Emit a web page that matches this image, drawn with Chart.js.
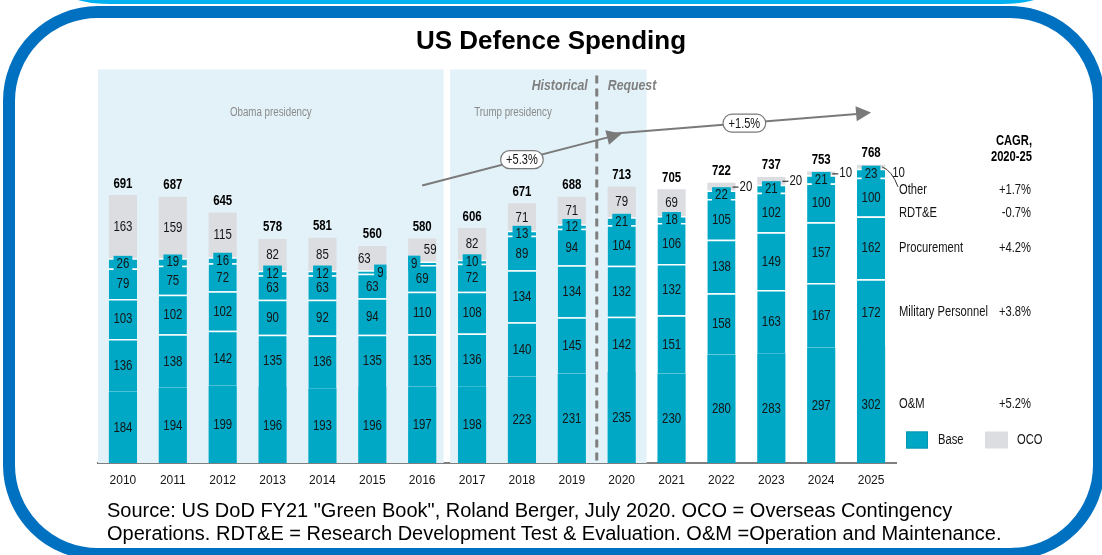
<!DOCTYPE html>
<html>
<head>
<meta charset="utf-8">
<script src="https://cdn.jsdelivr.net/npm/chart.js@4.4.1/dist/chart.umd.min.js"></script>
<style>
  html, body { margin: 0; padding: 0; width: 1102px; height: 555px; overflow: hidden; background: #fff; }
  #cap { position: absolute; left: 70px; top: -50px; width: 972px; height: 54px; background: #00b0f0;
         border-bottom-left-radius: 40px 10px; border-bottom-right-radius: 40px 10px; }
  #frame { position: absolute; left: 3px; top: 6px; width: 1102px; height: 554px; box-sizing: border-box;
           border: 12px solid #0070c0; border-radius: 95px; }
  #wrap { position: absolute; left: 0; top: 0; width: 1102px; height: 555px; }
  #title { position: absolute; left: 0; top: 25px; width: 1102px; text-align: center;
           font: bold 26px 'Liberation Sans', Arial, sans-serif; color: #000; }
  #note { position: absolute; left: 107px; top: 499px; white-space: nowrap;
          font: 20px/23px 'Liberation Sans', Arial, sans-serif; color: #000; }
</style>
</head>
<body>
<div id="cap"></div>
<div id="frame"></div>
<div id="wrap"><canvas id="chart"></canvas></div>
<div id="title">US Defence Spending</div>
<div id="note">Source: US DoD FY21 "Green Book", Roland Berger, July 2020. OCO = Overseas Contingency<br>Operations. RDT&amp;E = Research Development Test &amp; Evaluation. O&amp;M =Operation and Maintenance.</div>
<script>
// US defence budget by appropriation, $bn
const years = ['2010','2011','2012','2013','2014','2015','2016','2017','2018','2019','2020','2021','2022','2023','2024','2025'];
const operationsMaintenance = [184,194,199,196,193,196,197,198,223,231,235,230,280,283,297,302];
const militaryPersonnel     = [136,138,142,135,136,135,135,136,140,145,142,151,158,163,167,172];
const procurement           = [103,102,102,90,92,94,110,108,134,134,132,132,138,149,157,162];
const rdte                  = [79,75,72,63,63,63,69,72,89,94,104,106,105,102,100,100];
const otherBase             = [26,19,16,12,12,9,9,10,13,12,21,18,22,21,21,23];
const oco                   = [163,159,115,82,85,63,59,82,71,71,79,69,20,20,10,10];
const totals                = [691,687,645,578,581,560,580,606,671,688,713,705,722,737,753,768];

const seriesNames = ['O&M','Military Personnel','Procurement','RDT&E','Other'];
const cagr2020to25 = ['+5.2%','+3.8%','+4.2%','-0.7%','+1.7%'];
const trendLabels = ['+5.3%','+1.5%'];

const SANS = "'Liberation Sans', Arial, sans-serif";
const TEAL = '#00a8c6';
const GREY = '#dcdde1';
const PANEL = '#e3f2f8';
const INK = '#141414';

function segment(label, data, color, separator) {
  return {
    label, data, backgroundColor: color, stack: 'budget',
    borderColor: '#ffffff',
    borderWidth: separator ? { top: 1.5, right: 0, bottom: 0, left: 0 } : 0,
    borderSkipped: false
  };
}

// Small labels nudged sideways so they do not collide
const labelShift = { '4:5': 8, '5:5': -8, '4:6': -8, '5:6': 8 };

// Condensed lettering: Liberation Sans squeezed horizontally
function narrowFont(size, weight, style) {
  return `${style || ''} ${weight || ''} ${size}px ${SANS}`;
}
function narrowWidth(ctx, text, o) {
  ctx.save();
  ctx.font = narrowFont(o.size, o.weight, o.style);
  const w = ctx.measureText(text).width * (o.squeeze || 0.8);
  ctx.restore();
  return w;
}
function narrowText(ctx, text, x, y, o) {
  ctx.save();
  ctx.font = narrowFont(o.size, o.weight, o.style);
  ctx.fillStyle = o.color || INK;
  ctx.textAlign = o.align || 'center';
  ctx.textBaseline = 'middle';
  ctx.translate(x, y);
  ctx.scale(o.squeeze || 0.8, 1);
  ctx.fillText(text, 0, 0);
  ctx.restore();
}

const VAL = { size: 14.5, squeeze: 0.79 };
const TOT = { size: 14.5, squeeze: 0.79, weight: 'bold', color: '#000' };
const SIDE = { size: 14, squeeze: 0.8 };

function barGeom(chart, d, j) {
  return chart.getDatasetMeta(d).data[j].getProps(['x', 'y', 'base', 'width'], true);
}

function arrowHead(ctx, from, to, len, half) {
  const ang = Math.atan2(to.y - from.y, to.x - from.x);
  ctx.beginPath();
  ctx.moveTo(to.x, to.y);
  ctx.lineTo(to.x - len * Math.cos(ang) + half * Math.sin(ang), to.y - len * Math.sin(ang) - half * Math.cos(ang));
  ctx.lineTo(to.x - len * Math.cos(ang) - half * Math.sin(ang), to.y - len * Math.sin(ang) + half * Math.cos(ang));
  ctx.closePath();
  ctx.fill();
}

function pill(ctx, cx, cy, text) {
  const o = { size: 14, squeeze: 0.79 };
  const w = narrowWidth(ctx, text, o) + 11, h = 18;
  ctx.beginPath();
  ctx.roundRect(cx - w / 2, cy - h / 2, w, h, 9);
  ctx.fillStyle = '#fff';
  ctx.fill();
  ctx.lineWidth = 1.2;
  ctx.strokeStyle = '#7a7a7a';
  ctx.stroke();
  narrowText(ctx, text, cx, cy + 0.5, o);
}

const decor = {
  id: 'decor',
  beforeDatasetsDraw(chart) {
    const { ctx, chartArea: a, scales: { x } } = chart;
    const half = (x.getPixelForValue(1) - x.getPixelForValue(0)) / 2;
    const split = x.getPixelForValue(6) + half;      // 2016 | 2017
    const panelEnd = x.getPixelForValue(10) + half;  // end of 2020
    ctx.save();
    ctx.fillStyle = PANEL;
    ctx.fillRect(a.left, a.top, split - 3.5 - a.left, a.bottom - a.top);
    ctx.fillRect(split + 3, a.top, panelEnd - split - 3, a.bottom - a.top);
    const era = { size: 12.5, squeeze: 0.78, color: '#8a8a8a' };
    narrowText(ctx, 'Obama presidency', (a.left + split - 3.5) / 2, a.top + 43, era);
    narrowText(ctx, 'Trump presidency', split + 27, a.top + 43, Object.assign({ align: 'left' }, era));
    ctx.restore();
  },
  afterDatasetsDraw(chart) {
    const { ctx, chartArea: a, scales: { x, y } } = chart;
    const half = (x.getPixelForValue(1) - x.getPixelForValue(0)) / 2;
    const last = years.length - 1;
    ctx.save();

    // segment values
    for (let d = 0; d < 6; d++) {
      chart.data.datasets[d].data.forEach((v, j) => {
        const g = barGeom(chart, d, j);
        const mid = (g.y + g.base) / 2;
        const cx = g.x + (labelShift[d + ':' + j] || 0);
        const txt = String(v);
        if (d === 5 && g.base - g.y < 9) {
          // thin OCO slice: value written beside the bar
          const right = g.x + g.width / 2;
          if (j === last) {
            narrowText(ctx, txt, right + 7, mid + 6, Object.assign({ align: 'left' }, VAL));
          } else {
            ctx.strokeStyle = INK;
            ctx.lineWidth = 1;
            ctx.beginPath();
            ctx.moveTo(right - 3, mid + 0.5);
            ctx.lineTo(right + 3, mid + 0.5);
            ctx.stroke();
            narrowText(ctx, txt, right + 4, mid, Object.assign({ align: 'left' }, VAL));
          }
          return;
        }
        if (d === 4) {
          const w = narrowWidth(ctx, txt, VAL) + 6;
          ctx.fillStyle = TEAL;
          ctx.fillRect(cx - w / 2, mid - 7.5, w, 15);
        }
        narrowText(ctx, txt, cx, mid + 0.5, VAL);
      });
    }

    // totals above the bars
    totals.forEach((t, j) => {
      const g = barGeom(chart, 5, j);
      narrowText(ctx, String(t), g.x, g.y - 11.5, TOT);
    });

    // historical / request divider
    const divX = x.getPixelForValue(9) + half;
    ctx.strokeStyle = '#7f7f7f';
    ctx.lineWidth = 3;
    ctx.setLineDash([8, 5]);
    ctx.beginPath();
    ctx.moveTo(divX, a.top + 6);
    ctx.lineTo(divX, a.bottom);
    ctx.stroke();
    ctx.setLineDash([]);
    const phase = { size: 15, squeeze: 0.82, weight: 'bold', style: 'italic', color: '#7f7f7f' };
    narrowText(ctx, 'Historical', divX - 9, a.top + 16, Object.assign({ align: 'right' }, phase));
    narrowText(ctx, 'Request', divX + 11, a.top + 16, Object.assign({ align: 'left' }, phase));

    // growth trend arrows
    const p0 = { x: x.getPixelForValue(6), y: y.getPixelForValue(716) };
    const p1 = { x: x.getPixelForValue(10), y: y.getPixelForValue(849) };
    const p2 = { x: x.getPixelForValue(15), y: y.getPixelForValue(904) };
    ctx.strokeStyle = '#7a7a7a';
    ctx.fillStyle = '#7a7a7a';
    ctx.lineWidth = 2;
    ctx.beginPath();
    ctx.moveTo(p0.x, p0.y);
    ctx.lineTo(p1.x - 8, p1.y + 2);
    ctx.moveTo(p1.x - 10, p1.y);
    ctx.lineTo(p2.x - 8, p2.y + 1);
    ctx.stroke();
    arrowHead(ctx, p0, p1, 15, 7.5);
    arrowHead(ctx, p1, p2, 15, 7.5);
    pill(ctx, (p0.x + p1.x) / 2, (p0.y + p1.y) / 2, trendLabels[0]);
    pill(ctx, (p1.x + p2.x) / 2 - 2, (p1.y + p2.y) / 2, trendLabels[1]);

    // series names and CAGR beside the last bar
    const tx = a.right + 3, cx2 = a.right + 136;
    const head = { size: 14, squeeze: 0.8, weight: 'bold', color: '#000', align: 'right' };
    narrowText(ctx, 'CAGR,', cx2, y.getPixelForValue(831), head);
    narrowText(ctx, '2020-25', cx2, y.getPixelForValue(790), head);
    const nameShift = [0, 0, 0, 16, 17];
    for (let d = 0; d < 5; d++) {
      const g = barGeom(chart, d, last);
      const ly = (g.y + g.base) / 2 + nameShift[d];
      narrowText(ctx, seriesNames[d], tx, ly, Object.assign({ align: 'left' }, SIDE));
      narrowText(ctx, cagr2020to25[d], cx2 - 1, ly, Object.assign({ align: 'right' }, SIDE));
    }
    // leader from the top of the last bar to the "Other" label
    const gTop = barGeom(chart, 5, last);
    ctx.strokeStyle = '#333';
    ctx.lineWidth = 1;
    ctx.beginPath();
    ctx.moveTo(gTop.x + gTop.width / 2 - 3, gTop.y + 2);
    ctx.quadraticCurveTo(gTop.x + gTop.width / 2 + 7, gTop.y + 6, tx - 1, gTop.y + 22);
    ctx.stroke();

    // legend
    const ly = a.bottom - 23;
    ctx.fillStyle = TEAL;
    ctx.fillRect(a.right + 10, ly - 8.5, 22, 17);
    ctx.strokeStyle = '#0a95ae';
    ctx.strokeRect(a.right + 10.5, ly - 8, 21, 16);
    ctx.fillStyle = GREY;
    ctx.fillRect(a.right + 89, ly - 8.5, 23, 17);
    narrowText(ctx, 'Base', a.right + 42, ly, Object.assign({ align: 'left' }, SIDE));
    narrowText(ctx, 'OCO', a.right + 121, ly, Object.assign({ align: 'left' }, SIDE));
    ctx.restore();
  }
};

new Chart(document.getElementById('chart'), {
  type: 'bar',
  data: {
    labels: years,
    datasets: [
      segment('O&M', operationsMaintenance, TEAL, false),
      segment('Military Personnel', militaryPersonnel, TEAL, true),
      segment('Procurement', procurement, TEAL, true),
      segment('RDT&E', rdte, TEAL, true),
      segment('Other', otherBase, TEAL, true),
      segment('OCO', oco, GREY, false)
    ]
  },
  options: {
    responsive: true,
    maintainAspectRatio: false,
    animation: false,
    events: [],
    layout: { padding: { left: 98, right: 206, top: 69.5, bottom: 62 } },
    datasets: { bar: { categoryPercentage: 1, barPercentage: 0.565 } },
    plugins: { legend: { display: false }, tooltip: { enabled: false } },
    scales: {
      x: {
        stacked: true,
        z: 1,
        grid: { display: false, drawTicks: false },
        border: { display: true, color: '#7f7f7f', width: 2 },
        ticks: { color: INK, font: { family: SANS, size: 12 }, padding: 10 },
        afterFit(scale) { scale.height = 30; }
      },
      y: { stacked: true, display: false, min: 0, max: 1015 }
    }
  },
  plugins: [decor]
});
</script>
</body>
</html>
